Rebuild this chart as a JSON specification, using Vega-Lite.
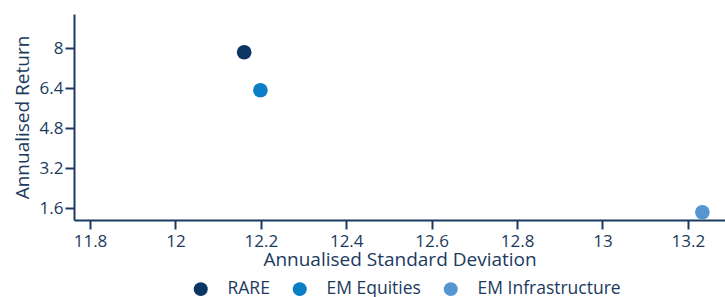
{
  "$schema": "https://vega.github.io/schema/vega-lite/v6.json",
  "autosize": "none",
  "width": 651,
  "height": 206,
  "padding": {"left": 74, "top": 14, "right": 0, "bottom": 77},
  "background": "white",
  "data": {
    "values": [
      {"series": "RARE", "sd": 12.161, "ret": 7.84},
      {"series": "EM Equities", "sd": 12.199, "ret": 6.32},
      {"series": "EM Infrastructure", "sd": 13.234, "ret": 1.44}
    ]
  },
  "mark": {"type": "point", "filled": true, "shape": "circle", "size": 215, "opacity": 1},
  "encoding": {
    "x": {
      "field": "sd", "type": "quantitative",
      "scale": {"domain": [11.7625, 13.287], "nice": false, "zero": false},
      "axis": {"values": [11.8, 12, 12.2, 12.4, 12.6, 12.8, 13, 13.2], "format": ".1~f", "title": "Annualised Standard Deviation", "titlePadding": 1, "labelPadding": 4}
    },
    "y": {
      "field": "ret", "type": "quantitative",
      "scale": {"domain": [1.132, 9.37], "nice": false, "zero": false},
      "axis": {"values": [1.6, 3.2, 4.8, 6.4, 8], "format": ".1~f", "title": "Annualised Return", "titlePadding": 7, "labelPadding": 2}
    },
    "color": {
      "field": "series", "type": "nominal",
      "scale": {"domain": ["RARE", "EM Equities", "EM Infrastructure"], "range": ["#0b3563", "#0a7fc6", "#5596d2"]},
      "legend": {"orient": "none", "direction": "horizontal", "legendX": 118, "legendY": 266, "title": null, "symbolSize": 195, "symbolType": "circle", "labelOffset": 18, "columnPadding": 21, "padding": 0}
    }
  },
  "config": {
    "font": "Open Sans",
    "view": {"stroke": null},
    "axis": {
      "grid": false,
      "domainColor": "#1b3a60", "domainWidth": 2,
      "tickColor": "#1b3a60", "tickWidth": 2, "tickSize": 9,
      "labelColor": "#1b3a60", "labelFont": "Open Sans", "labelFontSize": 17,
      "titleColor": "#1b3a60", "titleFont": "Open Sans", "titleFontSize": 19, "titleFontWeight": "normal"
    },
    "legend": {"labelColor": "#1b3a60", "labelFont": "Open Sans", "labelFontSize": 17.5}
  }
}
